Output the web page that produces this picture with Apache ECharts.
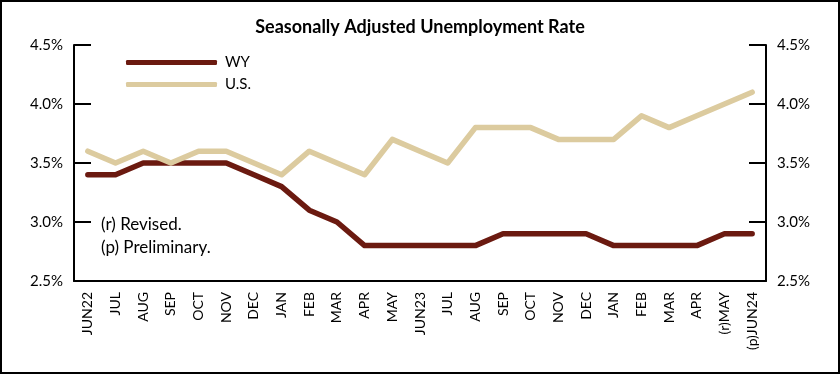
<!DOCTYPE html>
<html>
<head>
<meta charset="utf-8">
<script src="https://cdn.jsdelivr.net/npm/echarts@6/dist/echarts.min.js"></script>
<style>
html,body{margin:0;padding:0;background:#fff;}
#c{width:840px;height:374px;}
</style>
</head>
<body>
<div id="c"></div>
<script>
const categories = ['JUN22','JUL','AUG','SEP','OCT','NOV','DEC','JAN','FEB','MAR','APR','MAY','JUN23','JUL','AUG','SEP','OCT','NOV','DEC','JAN','FEB','MAR','APR','(r)MAY','(p)JUN24'];
const wyValues = [3.4,3.4,3.5,3.5,3.5,3.5,3.4,3.3,3.1,3.0,2.8,2.8,2.8,2.8,2.8,2.9,2.9,2.9,2.9,2.8,2.8,2.8,2.8,2.9,2.9];
const usValues = [3.6,3.5,3.6,3.5,3.6,3.6,3.5,3.4,3.6,3.5,3.4,3.7,3.6,3.5,3.8,3.8,3.8,3.7,3.7,3.7,3.9,3.8,3.9,4.0,4.1];
const seriesNames = ['WY','U.S.'];
const notes = ['(r) Revised.','(p) Preliminary.'];
const titleText = 'Seasonally Adjusted Unemployment Rate';

const FONT = 'Lato';
const chart = echarts.init(document.getElementById('c'), null, {renderer:'canvas'});
const yAxisBase = {
  type:'value', min:2.5, max:4.5, interval:0.5,
  axisLine:{show:true, lineStyle:{color:'#000', width:2}},
  axisTick:{show:true, inside:true, length:17, lineStyle:{color:'#000', width:2}},
  splitLine:{show:false},
  axisLabel:{color:'#000', fontFamily:FONT, fontSize:15, margin:11,
    formatter: v => v.toFixed(1) + '%'}
};
chart.setOption({
  animation:false,
  backgroundColor:'#fff',
  title:{text:titleText, left:'center', top:13,
    textStyle:{fontFamily:FONT, fontWeight:'bold', fontSize:18, color:'#000'}},
  grid:{left:74, right:74, top:45, bottom:93, containLabel:false},
  legend:{
    orient:'vertical', left:121, top:50, itemGap:7,
    itemWidth:91, itemHeight:5, icon:'roundRect',
    textStyle:{fontFamily:FONT, fontSize:15, color:'#000', padding:[0,0,0,3]},
    data:seriesNames
  },
  xAxis:{
    type:'category', data:categories, boundaryGap:true,
    axisLine:{show:true, lineStyle:{color:'#000', width:2}},
    axisTick:{show:false},
    axisLabel:{rotate:90, interval:0, color:'#000', fontFamily:FONT, fontSize:14, margin:11}
  },
  yAxis:[
    Object.assign({}, yAxisBase, {position:'left'}),
    Object.assign({}, yAxisBase, {position:'right'})
  ],
  series:[
    {name:seriesNames[0], type:'line', data:wyValues, showSymbol:false, symbol:'none',
      color:'#6B1A10',
      lineStyle:{color:'#6B1A10', width:5.5, cap:'round', join:'round'}},
    {name:seriesNames[1], type:'line', data:usValues, showSymbol:false, symbol:'none',
      color:'#DCCB9F',
      lineStyle:{color:'#DCCB9F', width:5.5, cap:'round', join:'round'}}
  ],
  graphic:[
    {type:'rect', shape:{x:1, y:1, width:838, height:372}, style:{fill:null, stroke:'#000', lineWidth:2}, silent:true},
    {type:'text', left:101, top:216, style:{text:notes[0], fontFamily:FONT, fontSize:17, fill:'#000'}},
    {type:'text', left:101, top:239, style:{text:notes[1], fontFamily:FONT, fontSize:17, fill:'#000'}}
  ]
});
</script>
</body>
</html>
